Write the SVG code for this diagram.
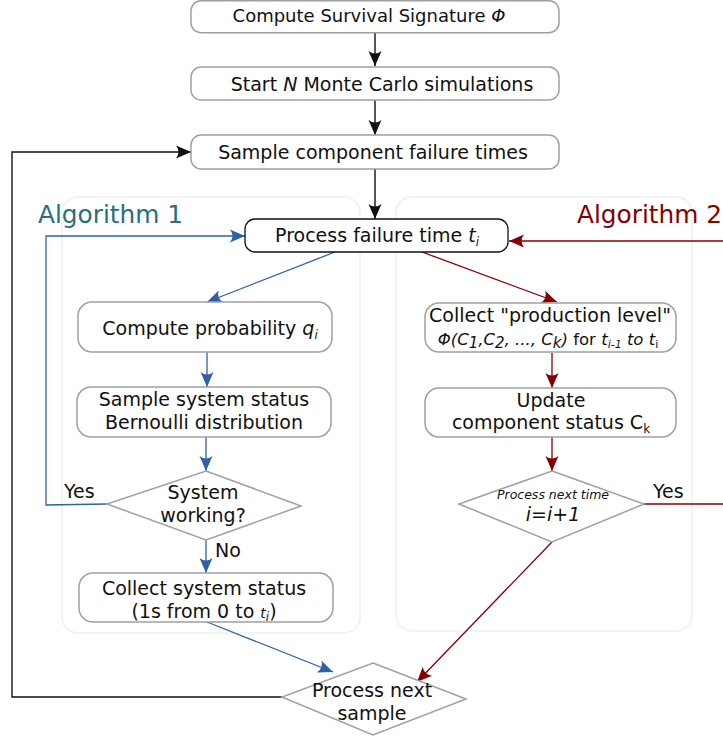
<svg xmlns="http://www.w3.org/2000/svg" width="723" height="738" viewBox="0 0 723 738">
  <defs>
    <style>
      text { font-family: "DejaVu Sans", "Liberation Sans", sans-serif; font-size: 19px; fill: #111; }
      .box { fill: #fff; stroke: #a0a0a0; stroke-width: 1.5; }
      .boxk { fill: #fff; stroke: #111; stroke-width: 1.3; }
      .panel { fill: #fff; stroke: #f3f3f3; stroke-width: 2; }
      .title { font-size: 24.8px; }
      .k { fill: none; stroke: #111; stroke-width: 1.4; }
      .b { fill: none; stroke: #3060a8; stroke-width: 1.3; }
      .r { fill: none; stroke: #870000; stroke-width: 1.3; }
      .it { font-style: italic; }
      .sub { font-size: 12px; }
      .c { text-anchor: middle; }
    </style>
    <marker id="ak" markerUnits="userSpaceOnUse" markerWidth="18" markerHeight="14" refX="16" refY="7" orient="auto">
      <path d="M16,7 L1,0.5 Q6,7 1,13.5 Z" fill="#111"/>
    </marker>
    <marker id="ab" markerUnits="userSpaceOnUse" markerWidth="18" markerHeight="14" refX="16" refY="7" orient="auto">
      <path d="M16,7 L1,0.5 Q6,7 1,13.5 Z" fill="#3060a8"/>
    </marker>
    <marker id="ar" markerUnits="userSpaceOnUse" markerWidth="18" markerHeight="14" refX="16" refY="7" orient="auto">
      <path d="M16,7 L1,0.5 Q6,7 1,13.5 Z" fill="#870000"/>
    </marker>
  </defs>

  <rect width="723" height="738" fill="#fff"/>

  <!-- algorithm panels -->
  <g id="panels">
    <rect class="panel" x="62" y="197" width="298" height="436" rx="16"/>
    <rect class="panel" x="396" y="197" width="296" height="434" rx="16"/>
    <text class="title" x="38" y="223" style="fill:#26707e">Algorithm 1</text>
    <text class="title" x="577" y="223" style="fill:#870000">Algorithm 2</text>
  </g>

  <!-- connectors -->
  <g id="connectors">
    <line class="k" x1="375" y1="33" x2="375" y2="66" marker-end="url(#ak)"/>
    <line class="k" x1="375" y1="100" x2="375" y2="135" marker-end="url(#ak)"/>
    <line class="k" x1="375" y1="169" x2="375" y2="219" marker-end="url(#ak)"/>
    <polyline class="k" points="282,697 12,697 12,152 191,152" marker-end="url(#ak)"/>

    <line class="b" x1="335" y1="252" x2="207" y2="302" marker-end="url(#ab)"/>
    <line class="b" x1="207" y1="352" x2="207" y2="387" marker-end="url(#ab)"/>
    <line class="b" x1="206" y1="437" x2="206" y2="471" marker-end="url(#ab)"/>
    <line class="b" x1="206" y1="540" x2="206" y2="573" marker-end="url(#ab)"/>
    <polyline class="b" points="107,504 46,505 46,236 245,236" marker-end="url(#ab)"/>
    <line class="b" x1="207" y1="622" x2="333" y2="672" marker-end="url(#ab)"/>

    <line class="r" x1="723" y1="241" x2="509" y2="241" marker-end="url(#ar)"/>
    <line class="r" x1="422" y1="252" x2="557" y2="302" marker-end="url(#ar)"/>
    <line class="r" x1="552" y1="353" x2="552" y2="388" marker-end="url(#ar)"/>
    <line class="r" x1="552" y1="437" x2="552" y2="471" marker-end="url(#ar)"/>
    <line class="r" x1="644" y1="504" x2="723" y2="504"/>
    <line class="r" x1="552" y1="542" x2="417" y2="682" marker-end="url(#ar)"/>

    <text x="64" y="498">Yes</text>
    <text x="215" y="557">No</text>
    <text x="653" y="498">Yes</text>
  </g>

  <!-- main flow -->
  <g id="compute-signature">
    <rect class="box" x="191" y="0.75" width="368" height="32" rx="10"/>
    <text class="c" x="369" y="22" style="font-size:18px">Compute Survival Signature <tspan class="it">Φ</tspan></text>
  </g>
  <g id="start-simulations">
    <rect class="box" x="191" y="67" width="368" height="33" rx="10"/>
    <text class="c" x="382" y="91">Start <tspan class="it">N</tspan> Monte Carlo simulations</text>
  </g>
  <g id="sample-failure-times">
    <rect class="box" x="191" y="135" width="368" height="34" rx="10"/>
    <text class="c" x="373" y="159">Sample component failure times</text>
  </g>
  <g id="process-failure-time">
    <rect class="boxk" x="245" y="219" width="263" height="33" rx="10"/>
    <text class="c" x="377" y="242">Process failure time <tspan class="it">t</tspan><tspan class="it sub" dy="4">i</tspan></text>
  </g>

  <!-- algorithm 1 -->
  <g id="compute-probability">
    <rect class="box" x="78" y="302" width="254" height="50" rx="14"/>
    <text class="c" x="210" y="335">Compute probability <tspan class="it">q</tspan><tspan class="it sub" dy="4">i</tspan></text>
  </g>
  <g id="sample-system-status">
    <rect class="box" x="77" y="387" width="254" height="50" rx="14"/>
    <text class="c" x="204" y="406">Sample system status</text>
    <text class="c" x="204" y="429">Bernoulli distribution</text>
  </g>
  <g id="system-working">
    <polygon class="box" points="206,471 301,506 206,540 107,504"/>
    <text class="c" x="203" y="499">System</text>
    <text class="c" x="203" y="522">working?</text>
  </g>
  <g id="collect-system-status">
    <rect class="box" x="79" y="573" width="254" height="49" rx="14"/>
    <text class="c" x="204" y="595">Collect system status</text>
    <text class="c" x="204" y="618">(1s from 0 to <tspan class="it" style="font-size:14px">t</tspan><tspan class="it sub" dy="3">i</tspan><tspan dy="-3">)</tspan></text>
  </g>

  <!-- algorithm 2 -->
  <g id="collect-production-level">
    <rect class="box" x="425" y="303" width="251" height="49" rx="14"/>
    <text class="c" x="550" y="322">Collect "production level"</text>
    <text class="c" x="548" y="345" style="font-size:16.5px"><tspan class="it">Φ(C</tspan><tspan class="it" style="font-size:15px" dy="3">1</tspan><tspan class="it" dy="-3">,C</tspan><tspan class="it" style="font-size:15px" dy="3">2</tspan><tspan class="it" dy="-3">, ..., C</tspan><tspan class="it" style="font-size:15px" dy="3">k</tspan><tspan class="it" dy="-3">)</tspan> for <tspan class="it">t</tspan><tspan class="it" style="font-size:11px" dy="3">i-1</tspan><tspan class="it" dy="-3"> to t</tspan><tspan style="font-size:11px" dy="3">i</tspan></text>
  </g>
  <g id="update-component-status">
    <rect class="box" x="425" y="388" width="251" height="49" rx="14"/>
    <text class="c" x="551" y="407">Update</text>
    <text class="c" x="551" y="429">component status C<tspan class="sub" dy="4">k</tspan></text>
  </g>
  <g id="process-next-time">
    <polygon class="box" points="552,471 644,504 552,542 459,504"/>
    <text class="c it" x="553" y="499" style="font-size:12.5px">Process next time</text>
    <text class="c it" x="553" y="521">i=i+1</text>
  </g>

  <!-- end of sample -->
  <g id="process-next-sample">
    <polygon class="box" points="373,663 466,699 373,735 282,697"/>
    <text class="c" x="372" y="697">Process next</text>
    <text class="c" x="372" y="720">sample</text>
  </g>
</svg>
